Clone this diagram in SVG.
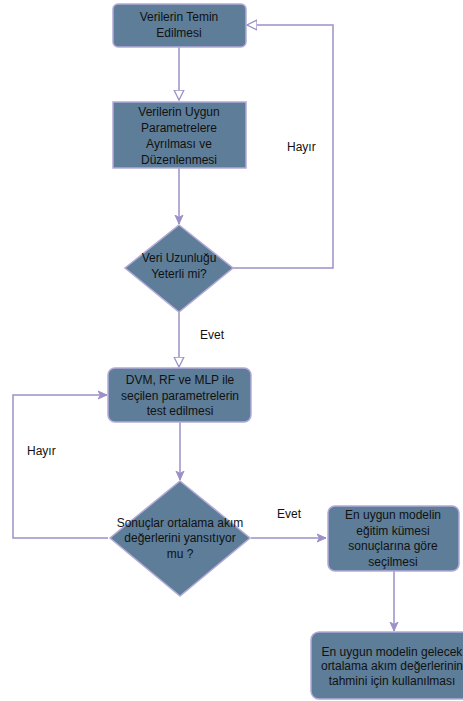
<svg xmlns="http://www.w3.org/2000/svg" width="463" height="701" viewBox="0 0 463 701">
<style>
.n{fill:#5d7d98;stroke:#b3aad8;stroke-width:1.5}
.t{font-family:"Liberation Sans",Arial,sans-serif;font-size:12px;fill:#111;text-anchor:middle}
.l{font-family:"Liberation Sans",Arial,sans-serif;font-size:12px;fill:#111}
.c{fill:none;stroke:#9d90c8;stroke-width:1.5}
</style>
<defs>
<marker id="h" markerWidth="12" markerHeight="12" refX="10" refY="5" orient="auto" markerUnits="userSpaceOnUse" viewBox="0 0 12 10">
<path d="M0,0 L10,5 L0,10 Z" fill="#fff" stroke="#9d90c8" stroke-width="1.3"/>
</marker>
<marker id="f" markerWidth="10" markerHeight="10" refX="9" refY="4" orient="auto" markerUnits="userSpaceOnUse" viewBox="0 0 10 8">
<path d="M0,0 L9,4 L0,8 L2.5,4 Z" fill="#9d90c8" stroke="#9d90c8"/>
</marker>
</defs>
<rect width="463" height="701" fill="#fff"/>
<g id="connectors">
<path class="c" d="M179,47 L179,100" marker-end="url(#h)"/>
<path class="c" d="M179,168 L179,224" marker-end="url(#f)"/>
<path class="c" d="M233,268 L333,268 L333,25 L247,25" marker-end="url(#h)"/>
<path class="c" d="M179,312 L179,367" marker-end="url(#h)"/>
<path class="c" d="M180,422 L180,480" marker-end="url(#f)"/>
<path class="c" d="M108,538 L13,538 L13,395 L107,395" marker-end="url(#f)"/>
<path class="c" d="M251,538 L326,538" marker-end="url(#f)"/>
<path class="c" d="M394,571 L394,631" marker-end="url(#f)"/>
</g>
<g id="labels">
<text class="l" x="287" y="151">Hayır</text>
<text class="l" x="200" y="339">Evet</text>
<text class="l" x="27" y="455">Hayır</text>
<text class="l" x="277" y="518">Evet</text>
</g>
<g id="n1">
<rect class="n" x="113" y="4" width="133" height="43" rx="5"/>
<text class="t" x="179" y="21">Verilerin Temin</text>
<text class="t" x="179" y="37">Edilmesi</text>
</g>
<g id="n2">
<rect class="n" x="113" y="102" width="133" height="66"/>
<text class="t" x="179" y="116">Verilerin Uygun</text>
<text class="t" x="179" y="132">Parametrelere</text>
<text class="t" x="179" y="148">Ayrılması ve</text>
<text class="t" x="179" y="164">Düzenlenmesi</text>
</g>
<g id="n3">
<path class="n" d="M179,225 L233,268 L179,312 L125,268 Z"/>
<text class="t" x="179" y="262">Veri Uzunluğu</text>
<text class="t" x="179" y="278">Yeterli mi?</text>
</g>
<g id="n4">
<rect class="n" x="108" y="368" width="143" height="54" rx="7"/>
<text class="t" x="180" y="384">DVM, RF ve MLP ile</text>
<text class="t" x="180" y="400">seçilen parametrelerin</text>
<text class="t" x="180" y="415">test edilmesi</text>
</g>
<g id="n5">
<path class="n" d="M180,481 L250,538 L180,596 L110,538 Z"/>
<text class="t" x="180" y="527">Sonuçlar ortalama akım</text>
<text class="t" x="180" y="542">değerlerini yansıtıyor</text>
<text class="t" x="180" y="558">mu ?</text>
</g>
<g id="n6">
<rect class="n" x="328" y="506" width="131" height="65" rx="7"/>
<text class="t" x="393" y="519">En uygun modelin</text>
<text class="t" x="393" y="535">eğitim kümesi</text>
<text class="t" x="393" y="550">sonuçlarına göre</text>
<text class="t" x="393" y="566">seçilmesi</text>
</g>
<g id="n7">
<rect class="n" x="311" y="632" width="166" height="67" rx="8"/>
<text class="t" x="392" y="656">En uygun modelin gelecek</text>
<text class="t" x="392" y="670">ortalama akım değerlerinin</text>
<text class="t" x="392" y="685">tahmini için kullanılması</text>
</g>
</svg>
